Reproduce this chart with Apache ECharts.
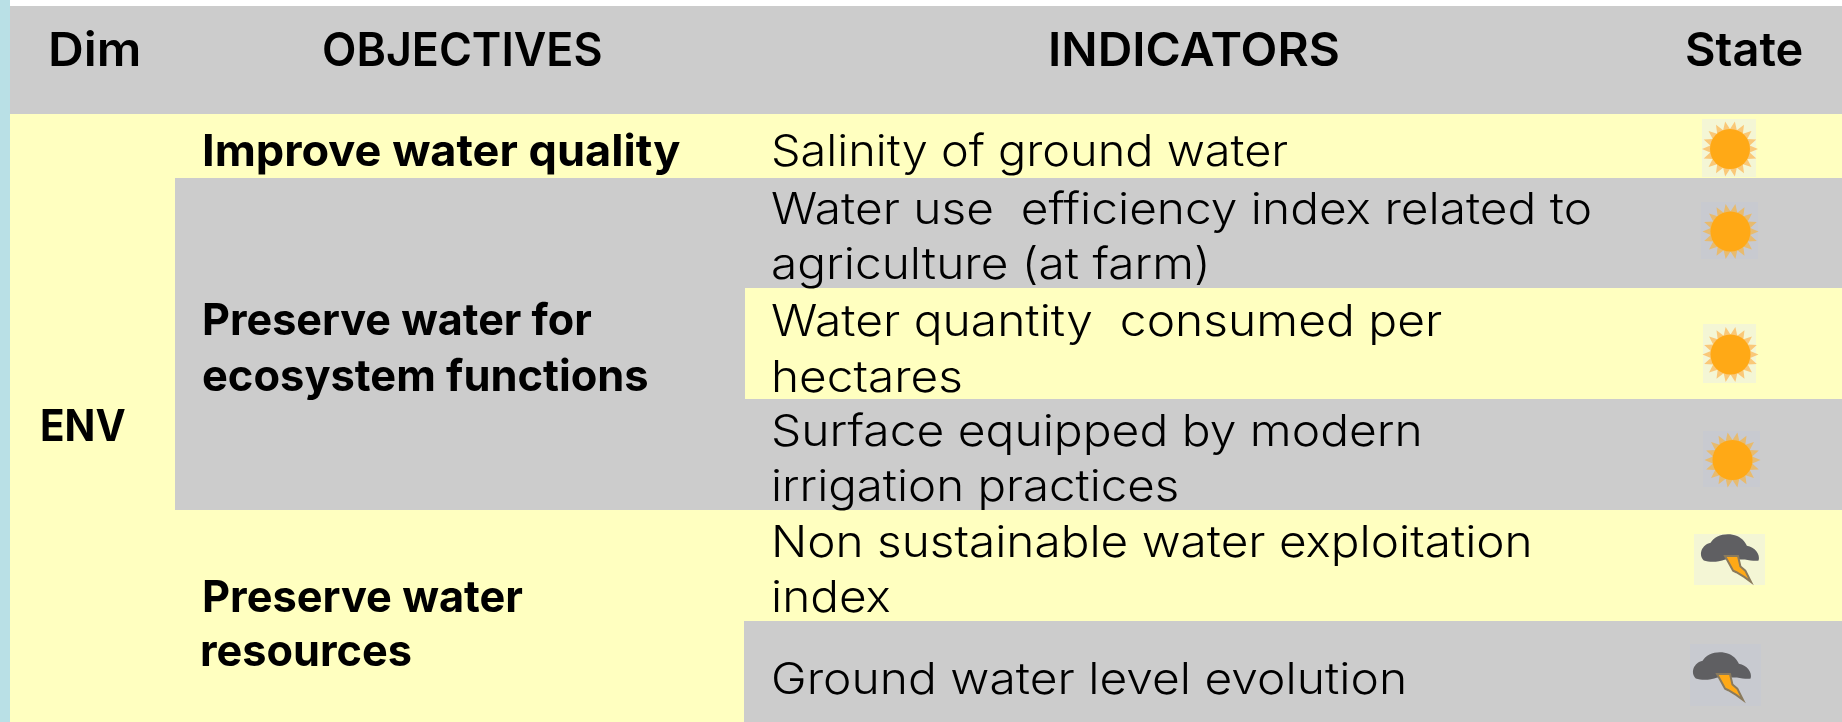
<!DOCTYPE html>
<html lang="en" style="height: 100%">
<head>
    <meta charset="UTF-8">
    <title>Water indicators</title>
    <script src="https://cdn.jsdelivr.net/npm/echarts@6/dist/echarts.min.js"></script>
    <style>
        body { margin: 0; background: #fff; }
        #container { width: 1842px; height: 722px; }
    </style>
</head>
<body>
<div id="container"></div>
<script type="text/javascript">
    // table content
    var headers = ["Dim", "OBJECTIVES", "INDICATORS", "State"];
    var dimension = ["ENV"];
    var objectives = ["Improve water quality", "Preserve water for", "ecosystem functions", "Preserve water", "resources"];
    var indicators = [
        "Salinity of ground water",
        "Water use  efficiency index related to", "agriculture (at farm)",
        "Water quantity  consumed per", "hectares",
        "Surface equipped by modern", "irrigation practices",
        "Non sustainable water exploitation", "index",
        "Ground water level evolution"
    ];
    var states = ["sun", "sun", "sun", "sun", "storm", "storm"];

    // layout, in picture pixels
    var headerX = [48, 322, 1048, 1685];
    var headerSx = [1.055, 0.952, 1.02, 1.0];
    var headerBase = 65;
    var dimX = 40, dimBase = 440, dimSx = 0.92;
    var objectiveX = [202, 202, 202, 202, 200];
    var objectiveSx = [1.025, 0.98, 0.987, 0.985, 0.983];
    var objectiveBase = [165, 334, 390, 611, 665];
    var indicatorX = 771;
    var indicatorSx = [1.065, 1.087, 1.087, 1.09, 1.085, 1.09, 1.078, 1.085, 1.085, 1.09];
    var indicatorBase = [165, 223, 278, 335, 391, 445, 500, 556, 611, 693];
    var stateBox = [
        [1702, 119, 54, 58], [1701, 202, 57, 57], [1703, 324, 53, 59],
        [1703, 431, 57, 56], [1694, 534, 71, 51], [1690, 644, 71, 62]
    ];
    var stormOffset = {4: [7, 0], 5: [3, 8]};
    var GRAY = "#cccccc", YELLOW = "#ffffc0", BLUE = "#b9e0e6";
    // x0, y0, x1, y1, colour
    var blocks = [
        [0, 0, 10, 722, BLUE],
        [10, 6, 1842, 114, GRAY],
        [10, 114, 1842, 722, YELLOW],
        [175, 178, 1842, 510, GRAY],
        [745, 288, 1842, 399, YELLOW],
        [744, 621, 1842, 722, GRAY]
    ];

    var texts = [];
    headers.forEach(function (t, i) { texts.push([headerX[i], headerBase, t, "head", headerSx[i]]); });
    dimension.forEach(function (t) { texts.push([dimX, dimBase, t, "bold", dimSx]); });
    objectives.forEach(function (t, i) { texts.push([objectiveX[i], objectiveBase[i], t, "bold", objectiveSx[i]]); });
    indicators.forEach(function (t, i) { texts.push([indicatorX, indicatorBase[i], t, "plain", indicatorSx[i]]); });

    var fonts = {
        head:  {size: 47, weight: 600},
        bold:  {size: 44, weight: 700},
        plain: {size: 44, weight: 300}
    };

    var cloudPath = "M8 28C2 22 6 12 15 10C19 2 32 -1 42 3C48 6 50 9 52 13C60 14 66 22 64 28C62 29 55 28 50 27L30 27C22 30 14 30 8 28Z";
    var boltPath = "M28 20L44 20L47 33L53 38L60 52L52 46L42 40L38 38Z";

    function starPoints(cx, cy, r0, r1, n) {
        var pts = [];
        for (var i = 0; i < n * 2; i++) {
            var r = i % 2 ? r0 : r1, a = Math.PI * i / n;
            pts.push([cx + r * Math.cos(a), cy + r * Math.sin(a)]);
        }
        return pts;
    }

    function renderBlock(params, api) {
        var p0 = api.coord([api.value(0), api.value(1)]);
        var p1 = api.coord([api.value(2), api.value(3)]);
        return {
            type: "rect",
            shape: {x: p0[0], y: p0[1], width: p1[0] - p0[0], height: p1[1] - p0[1]},
            style: {fill: blocks[params.dataIndex][4]}
        };
    }

    function renderText(params, api) {
        var row = texts[params.dataIndex];
        var f = fonts[row[3]];
        var p = api.coord([row[0], row[1]]);
        return {
            type: "text",
            x: p[0],
            y: p[1] - f.size * 0.28,
            scaleX: row[4],
            style: {
                text: row[2],
                fill: "#000",
                font: f.weight + " " + f.size + "px Inter",
                align: "left",
                verticalAlign: "middle"
            }
        };
    }

    function renderState(params, api) {
        var i = params.dataIndex;
        var b = stateBox[i];
        var p = api.coord([b[0], b[1]]);
        var onGray = i === 1 || i === 3 || i === 5;
        var kids = [{
            type: "rect",
            shape: {x: 0, y: 0, width: b[2], height: b[3]},
            style: {fill: onGray ? "#c8cad0" : "#f4f6d5"}
        }];
        if (states[i] === "sun") {
            var cx = b[2] / 2 + 1, cy = b[3] / 2 + 1;
            var spike = onGray ? "#e8bb6e" : "#fac878";
            kids.push({type: "polygon", shape: {points: starPoints(cx, cy, 20, 28, 18)}, style: {fill: spike}});
            kids.push({type: "circle", shape: {cx: cx, cy: cy, r: 20}, style: {fill: "#ffa916"}});
        } else {
            var o = stormOffset[i];
            kids.push({type: "path", shape: {pathData: cloudPath, x: o[0], y: o[1], width: 58, height: 28},
                style: {fill: "#5f5f62"}});
            kids.push({type: "path", shape: {pathData: boltPath, x: o[0] + 24, y: o[1] + 19, width: 26, height: 32},
                style: {fill: "#ffa916", stroke: "#8a7a5c", lineWidth: 2}});
        }
        return {type: "group", x: p[0], y: p[1], children: kids};
    }

    var myChart = echarts.init(document.getElementById("container"));
    myChart.setOption({
        animation: false,
        grid: {left: 0, right: 0, top: 0, bottom: 0},
        xAxis: {type: "value", min: 0, max: 1842, show: false},
        yAxis: {type: "value", min: 0, max: 722, inverse: true, show: false},
        series: [
            {type: "custom", coordinateSystem: "cartesian2d", renderItem: renderBlock, silent: true,
                data: blocks.map(function (b) { return b.slice(0, 4); }), clip: false},
            {type: "custom", coordinateSystem: "cartesian2d", renderItem: renderState, silent: true,
                data: states.map(function (s, i) { return [stateBox[i][0], stateBox[i][1]]; }), clip: false},
            {type: "custom", coordinateSystem: "cartesian2d", renderItem: renderText, silent: true,
                data: texts.map(function (t) { return [t[0], t[1]]; }), clip: false}
        ]
    });
</script>
</body>
</html>
